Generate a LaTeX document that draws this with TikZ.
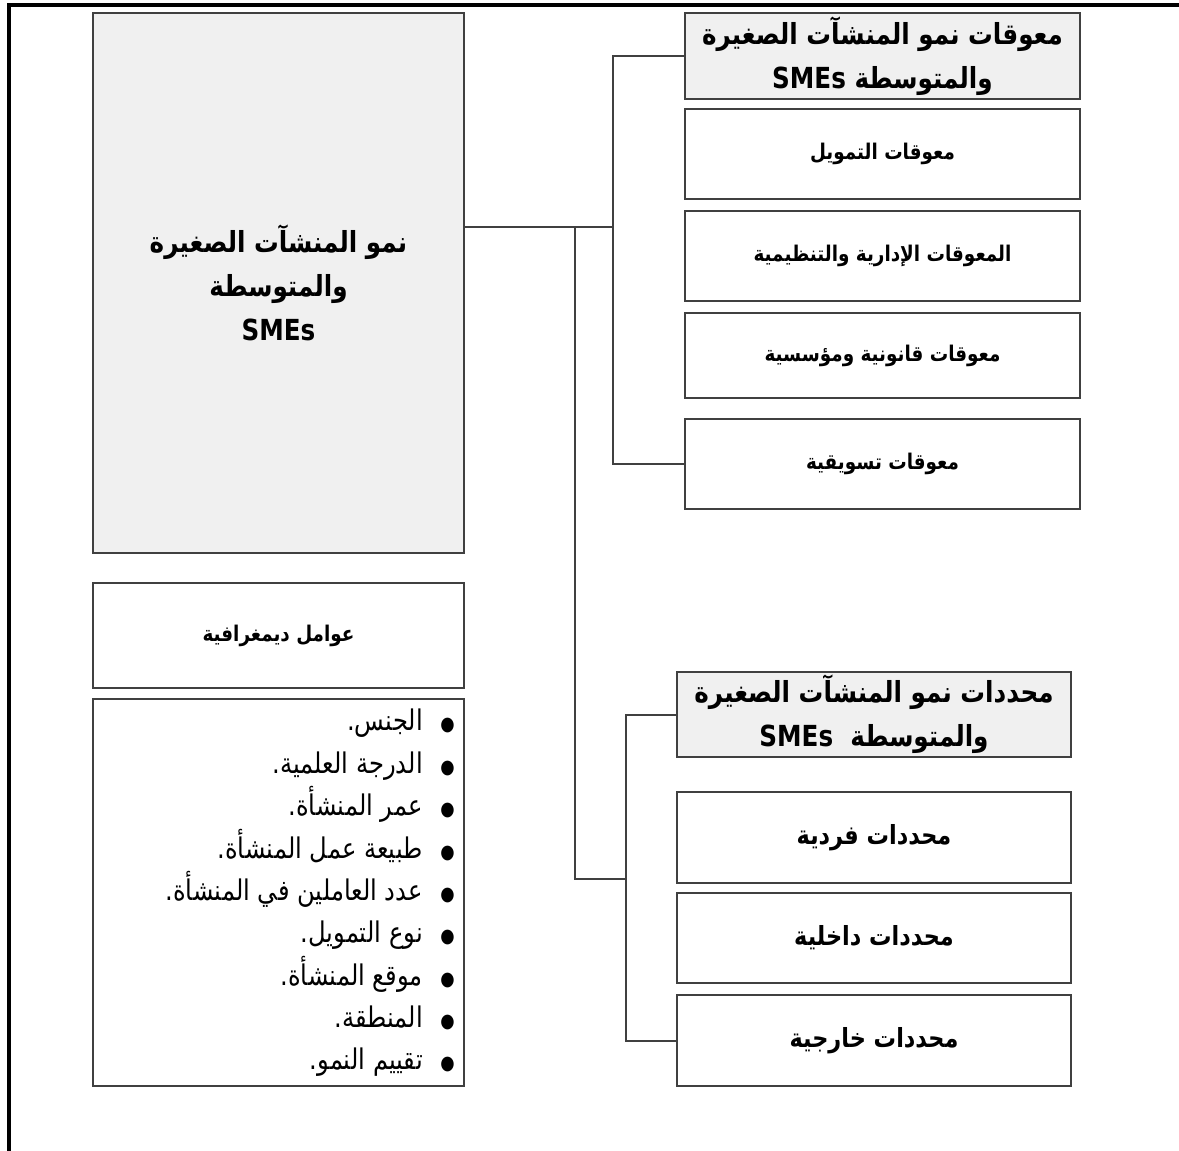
\documentclass[tikz,border=0pt]{standalone}
\usepackage{fontspec}
\usepackage{xcolor}
\newfontfamily\arabicfont[Script=Arabic, FakeStretch=0.85]{DejaVu Sans}
\TeXXeTstate=1
\newcommand{\artxt}[1]{\beginR #1\endR}
\newcommand{\bul}{{\fontsize{11}{11}\selectfont ●}\hspace{10pt}}
\definecolor{boxline}{HTML}{404040}
\definecolor{headfill}{HTML}{F0F0F0}

\begin{document}
\begin{tikzpicture}[x=0.02cm,y=-0.02cm,
	dims/.style 2 args={minimum width=#1*0.02cm, minimum height=#2*0.02cm},
	box/.style={draw=boxline, line width=0.04cm, fill=white, shape=rectangle, inner sep=0pt, font=\arabicfont\bfseries\fontsize{12.3}{18}\selectfont},
	headbox/.style={box, fill=headfill, align=center, font=\arabicfont\bfseries\fontsize{16.5}{25}\selectfont},
	bigbox/.style={box, font=\arabicfont\bfseries\fontsize{15}{20}\selectfont},
	link/.style={draw=boxline, line width=0.04cm}]
	\useasboundingbox (0,0) rectangle (1179,1151);
	\draw [line width=0.08cm] (9,1151) -- (9,5) -- (1179,5);
	
	% left column
	\node [headbox, dims={371}{540}] (growth) at (278.5, 283) {\artxt{نمو المنشآت الصغيرة}\\\artxt{والمتوسطة}\\\artxt{SMEs}};
	\node [box, dims={371}{105}] (demog) at (278.5, 635.5) {\artxt{عوامل ديمغرافية}};
	\node [box, dims={371}{387}] (demobox) at (278.5, 892.5) {};
	\node [anchor=north east, align=right, inner sep=0pt, font=\arabicfont\fontsize{16.2}{24.1}\selectfont] (demolist) at (455, 709) {\artxt{\bul الجنس.}\\\artxt{\bul الدرجة العلمية.}\\\artxt{\bul عمر المنشأة.}\\\artxt{\bul طبيعة عمل المنشأة.}\\\artxt{\bul عدد العاملين في المنشأة.}\\\artxt{\bul نوع التمويل.}\\\artxt{\bul موقع المنشأة.}\\\artxt{\bul المنطقة.}\\\artxt{\bul تقييم النمو.}};
	
	% obstacles
	\node [headbox, dims={395}{86}] (obshead) at (882.5, 56) {\artxt{معوقات نمو المنشآت الصغيرة}\\\artxt{والمتوسطة SMEs}};
	\node [box, dims={395}{90}] (fin) at (882.5, 154) {\artxt{معوقات التمويل}};
	\node [box, dims={395}{90}] (admin) at (882.5, 256) {\artxt{المعوقات الإدارية والتنظيمية}};
	\node [box, dims={395}{85}] (legal) at (882.5, 355.5) {\artxt{معوقات قانونية ومؤسسية}};
	\node [box, dims={395}{90}] (mkt) at (882.5, 464) {\artxt{معوقات تسويقية}};
	
	% determinants
	\node [headbox, dims={394}{85}] (dethead) at (874, 714.5) {\artxt{محددات نمو المنشآت الصغيرة}\\\artxt{والمتوسطة\ \ SMEs}};
	\node [bigbox, dims={394}{91}] (indiv) at (874, 837.5) {\artxt{محددات فردية}};
	\node [bigbox, dims={394}{90}] (intern) at (874, 938) {\artxt{محددات داخلية}};
	\node [bigbox, dims={394}{91}] (extern) at (874, 1040.5) {\artxt{محددات خارجية}};
	
	\coordinate (j1) at (613, 227);
	\coordinate (j2) at (575, 227);
	\coordinate (j3) at (626, 879);
	
	\draw [link] (growth.east |- j1) to (j1);
	\draw [link] (obshead.west) -| (j1) |- (mkt.west);
	\draw [link] (j2) |- (j3);
	\draw [link] (dethead.west) -| (j3) |- (extern.west);
\end{tikzpicture}
\end{document}
